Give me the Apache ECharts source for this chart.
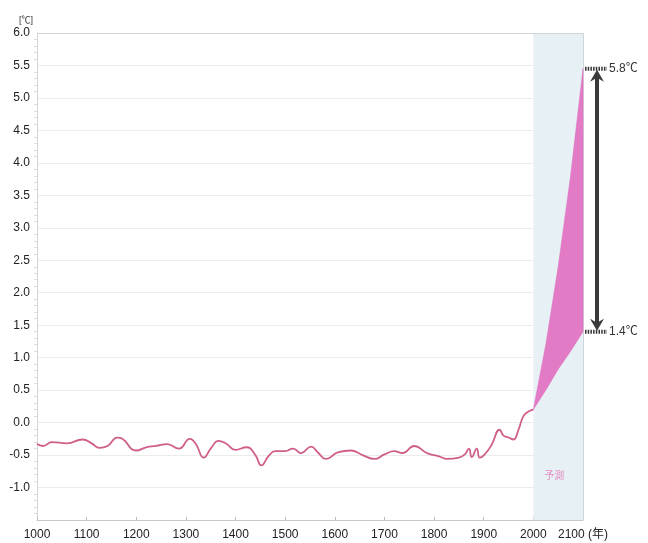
<!DOCTYPE html>
<html><head><meta charset="utf-8">
<script src="https://cdn.jsdelivr.net/npm/echarts@6/dist/echarts.min.js"></script>
<style>html,body{margin:0;padding:0;background:#fff}#c{width:648px;height:543px}</style>
</head><body><div id="c"></div>
<script>
// Historical temperature anomaly (°C)
var histYears = [1000,1012,1030,1060,1092,1110,1126,1142,1162,1172,1200,1220,1240,1262,1286,1308,1320,1336,1350,1366,1382,1400,1422,1440,1452,1466,1480,1500,1516,1532,1552,1566,1582,1606,1632,1656,1680,1700,1720,1736,1760,1786,1810,1826,1850,1862,1870,1876,1886,1892,1902,1916,1932,1940,1950,1960,1970,1980,1990,2000];
var histTemps = [-0.33,-0.36,-0.30,-0.32,-0.26,-0.32,-0.39,-0.36,-0.23,-0.25,-0.43,-0.38,-0.36,-0.33,-0.40,-0.25,-0.33,-0.54,-0.40,-0.28,-0.33,-0.42,-0.38,-0.50,-0.66,-0.52,-0.44,-0.44,-0.40,-0.47,-0.37,-0.46,-0.56,-0.46,-0.43,-0.50,-0.56,-0.49,-0.44,-0.47,-0.36,-0.47,-0.52,-0.56,-0.54,-0.49,-0.40,-0.53,-0.40,-0.54,-0.49,-0.34,-0.11,-0.20,-0.23,-0.26,-0.11,0.10,0.17,0.20];
// Projection band
var projYears = [2000,2025,2050,2075,2100];
var projLow  = [0.2,0.5,0.82,1.1,1.4];
var projHigh = [0.2,1.2,2.4,3.8,5.45];
var rangeLabels = ['5.8℃','1.4℃'];
var forecastLabel = '予測';
var yTicks = [-1.5,6.0];

var FONT = "'Liberation Sans','Noto Sans CJK JP',sans-serif";
var chart = echarts.init(document.getElementById('c'));
var hist = histYears.map(function(y,i){return [y,histTemps[i]];});
var band = projYears.map(function(y,i){return [y,projLow[i],projHigh[i]];});

chart.setOption({
  backgroundColor:'#fff',
  animation:false,
  grid:{left:37,right:65,top:33,bottom:23},
  xAxis:{type:'value',min:1000,max:2100,interval:100,
    axisLine:{onZero:false,lineStyle:{color:'#c8c8c8'}},
    axisTick:{show:true,length:3,inside:true,lineStyle:{color:'#bbb'}},
    splitLine:{show:false},
    axisLabel:{color:'#222',fontSize:12,fontFamily:FONT,margin:9,
      formatter:function(v){return v===2100?'2100 (年)':String(v);}}
  },
  yAxis:{type:'value',min:yTicks[0],max:yTicks[1],interval:0.5,
    name:'[℃]',nameLocation:'end',nameGap:8,
    nameTextStyle:{color:'#333',fontSize:9,fontFamily:FONT,align:'right',padding:[0,4,0,0]},
    axisLine:{show:true,lineStyle:{color:'#d4d4d4'}},
    axisTick:{show:false},
    minorTick:{show:true,splitNumber:5,length:3,lineStyle:{color:'#ddd'}},
    splitLine:{show:true,lineStyle:{color:'#ececec',width:1}},
    axisLabel:{color:'#222',fontSize:12,fontFamily:FONT,margin:7,
      formatter:function(v){return v<=-1.5?'':v.toFixed(1);}}
  },
  series:[
    {type:'line',data:[[2000,0],[2100,0]],symbol:'none',silent:true,lineStyle:{width:0,opacity:0},
      markArea:{silent:true,itemStyle:{color:'#e6f0f5'},data:[[{xAxis:2000},{xAxis:2100}]]},
      markLine:{silent:true,symbol:'none',label:{show:false},lineStyle:{color:'#cfd6da',type:'solid',width:1},data:[{xAxis:2100},{yAxis:6}]},
      z:1},
    {type:'line',data:hist,smooth:0.5,symbol:'none',lineStyle:{color:'#cf5f8a',width:1.8},z:5},
    {type:'custom',data:band,z:6,silent:true,
      renderItem:function(params,api){
        if(params.dataIndex!==0) return null;
        var up=[],dn=[];
        for(var i=0;i<band.length;i++){
          up.push(api.coord([band[i][0],band[i][2]]));
          dn.unshift(api.coord([band[i][0],band[i][1]]));
        }
        return {type:'polygon',shape:{points:up.concat(dn)},style:{fill:'#e27ac6',stroke:'#dc6fbf',lineWidth:0.5}};
      },
      encode:{x:0,y:[1,2]}}
  ]
});

function px(x,y){return chart.convertToPixel({gridIndex:0},[x,y]);}
var pTop = px(2100,projHigh[projHigh.length-1]);
var pBot = px(2100,projLow[projLow.length-1]);
var ax = pTop[0]+14;
var pLab = px(2042,-0.82);
var g = [];
g.push({type:'line',z:100,shape:{x1:ax,y1:pTop[1]+8,x2:ax,y2:pBot[1]-8},style:{stroke:'#3a3a3a',lineWidth:4}});
g.push({type:'polygon',z:100,shape:{points:[[ax,pTop[1]+1],[ax-7,pTop[1]+13],[ax,pTop[1]+9],[ax+7,pTop[1]+13]]},style:{fill:'#3a3a3a'}});
g.push({type:'polygon',z:100,shape:{points:[[ax,pBot[1]-1],[ax-7,pBot[1]-13],[ax,pBot[1]-9],[ax+7,pBot[1]-13]]},style:{fill:'#3a3a3a'}});
[pTop,pBot].forEach(function(p,i){
  g.push({type:'line',z:100,shape:{x1:p[0]+2,y1:p[1],x2:ax+10,y2:p[1]},style:{stroke:'#333',lineWidth:4,lineDash:[1.5,1.2]}});
  g.push({type:'text',z:100,x:ax+12,y:p[1],style:{text:rangeLabels[i],fill:'#333',font:'12px '+FONT,textVerticalAlign:'middle',verticalAlign:'middle'}});
});
g.push({type:'text',z:100,x:pLab[0],y:pLab[1],style:{text:forecastLabel,fill:'#e58ec2',font:'10px '+FONT,textAlign:'center',align:'center',textVerticalAlign:'middle',verticalAlign:'middle'}});
chart.setOption({graphic:g});
</script></body></html>
